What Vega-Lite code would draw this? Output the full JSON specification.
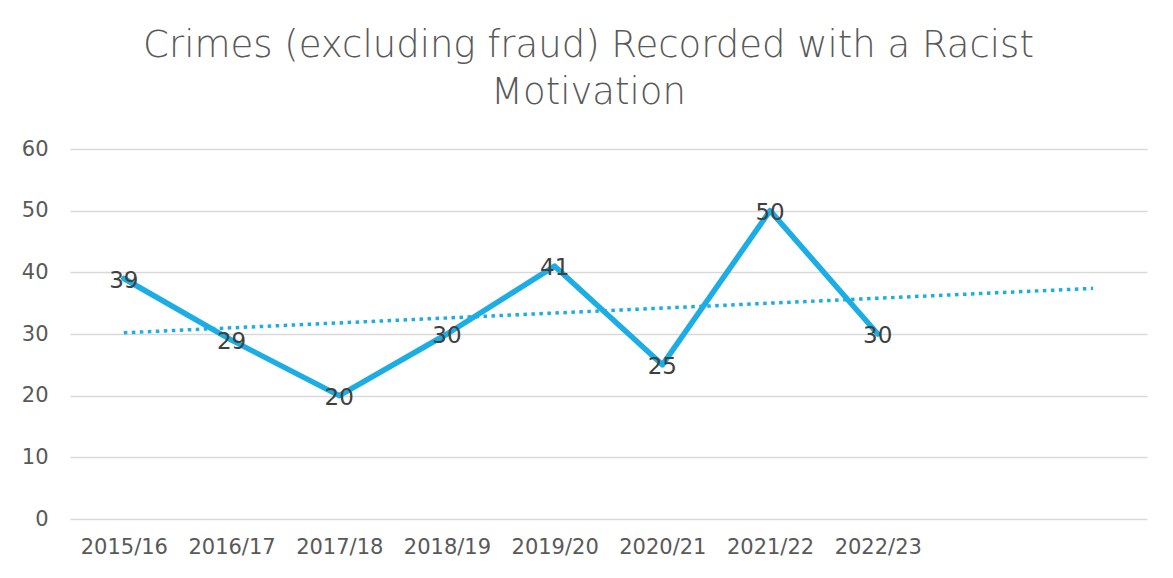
{
  "$schema": "https://vega.github.io/schema/vega-lite/v6.json",
  "width": 1077,
  "height": 370,
  "autosize": {"type": "none"},
  "padding": {"left": 70, "top": 149, "right": 26, "bottom": 59},
  "background": "white",
  "config": {
    "view": {"stroke": null},
    "font": "DejaVu Sans"
  },
  "title": {
    "text": ["Crimes (excluding fraud) Recorded with a Racist", "Motivation"],
    "anchor": "middle",
    "dx": -20,
    "offset": 26,
    "fontSize": 37,
    "fontWeight": 300,
    "lineHeight": 47,
    "color": "#595959",
    "font": "DejaVu Sans"
  },
  "datasets": {
    "crimes": [
      {"year": "2015/16", "count": 39},
      {"year": "2016/17", "count": 29},
      {"year": "2017/18", "count": 20},
      {"year": "2018/19", "count": 30},
      {"year": "2019/20", "count": 41},
      {"year": "2020/21", "count": 25},
      {"year": "2021/22", "count": 50},
      {"year": "2022/23", "count": 30}
    ],
    "trend": [
      {"year": "2015/16", "count": 30.2},
      {"year": "f2", "count": 37.4}
    ]
  },
  "encoding": {
    "x": {
      "field": "year",
      "type": "nominal",
      "sort": null,
      "scale": {
        "type": "point",
        "padding": 0.5,
        "domain": ["2015/16", "2016/17", "2017/18", "2018/19", "2019/20", "2020/21", "2021/22", "2022/23", "f1", "f2"]
      },
      "axis": {
        "title": null,
        "labelAngle": 0,
        "domain": false,
        "ticks": false,
        "tickSize": 0,
        "grid": false,
        "labelPadding": 17,
        "labelFontSize": 21,
        "labelColor": "#595959",
        "labelFont": "DejaVu Sans",
        "labelExpr": "indexof(datum.label, 'f') == 0 ? '' : datum.label"
      }
    },
    "y": {
      "field": "count",
      "type": "quantitative",
      "scale": {"domain": [0, 60], "nice": false},
      "axis": {
        "title": null,
        "values": [0, 10, 20, 30, 40, 50, 60],
        "domain": false,
        "ticks": false,
        "tickSize": 0,
        "labelPadding": 22,
        "labelFontSize": 21,
        "labelColor": "#595959",
        "labelFont": "DejaVu Sans",
        "gridColor": "#d9d9d9",
        "gridWidth": 1.5
      }
    }
  },
  "layer": [
    {
      "data": {"name": "trend"},
      "mark": {"type": "line", "color": "#1CADE4", "strokeWidth": 3.5, "strokeDash": [3.5, 4.5]}
    },
    {
      "data": {"name": "crimes"},
      "mark": {"type": "line", "color": "#1CADE4", "strokeWidth": 5.5, "strokeJoin": "round", "strokeCap": "round"}
    },
    {
      "data": {"name": "crimes"},
      "mark": {"type": "text", "fontSize": 23, "color": "#404040", "baseline": "middle", "align": "center", "font": "DejaVu Sans", "dy": 2},
      "encoding": {"text": {"field": "count", "type": "quantitative"}}
    }
  ]
}
